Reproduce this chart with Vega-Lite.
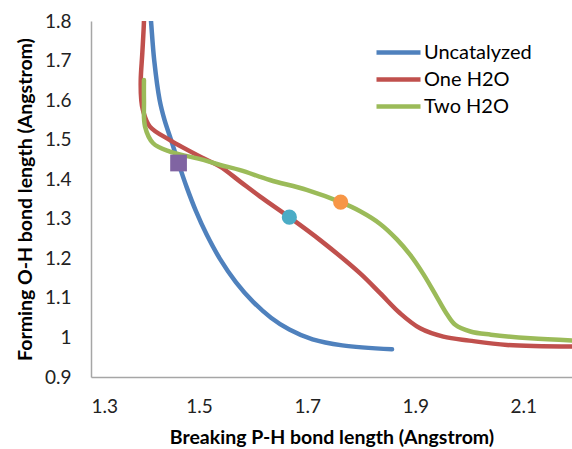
{
  "$schema": "https://vega.github.io/schema/vega-lite/v6.json",
  "width": 481,
  "height": 356,
  "autosize": {"type": "none"},
  "padding": {"left": 91, "top": 21, "right": 0, "bottom": 72},
  "background": "white",
  "config": {
    "view": {"stroke": null},
    "font": "Lato",
    "axis": {
      "grid": false,
      "ticks": false,
      "domainColor": "#A6A6A6",
      "domainWidth": 1.5,
      "labelFont": "Lato",
      "labelFontSize": 19,
      "labelColor": "#222222",
      "titleFont": "Lato",
      "titleFontSize": 19.5,
      "titleFontWeight": "bold",
      "titleColor": "#000000"
    }
  },
  "datasets": {
    "curves": [
      {"series": "Uncatalyzed", "x": 1.409, "y": 1.83},
      {"series": "Uncatalyzed", "x": 1.411, "y": 1.80},
      {"series": "Uncatalyzed", "x": 1.417, "y": 1.70},
      {"series": "Uncatalyzed", "x": 1.427, "y": 1.60},
      {"series": "Uncatalyzed", "x": 1.436, "y": 1.55},
      {"series": "Uncatalyzed", "x": 1.448, "y": 1.50},
      {"series": "Uncatalyzed", "x": 1.462, "y": 1.44},
      {"series": "Uncatalyzed", "x": 1.477, "y": 1.38},
      {"series": "Uncatalyzed", "x": 1.494, "y": 1.32},
      {"series": "Uncatalyzed", "x": 1.514, "y": 1.26},
      {"series": "Uncatalyzed", "x": 1.538, "y": 1.20},
      {"series": "Uncatalyzed", "x": 1.568, "y": 1.14},
      {"series": "Uncatalyzed", "x": 1.600, "y": 1.09},
      {"series": "Uncatalyzed", "x": 1.633, "y": 1.05},
      {"series": "Uncatalyzed", "x": 1.667, "y": 1.02},
      {"series": "Uncatalyzed", "x": 1.710, "y": 0.995},
      {"series": "Uncatalyzed", "x": 1.765, "y": 0.980},
      {"series": "Uncatalyzed", "x": 1.857, "y": 0.970},
      {"series": "One H2O", "x": 1.398, "y": 1.83},
      {"series": "One H2O", "x": 1.398, "y": 1.80},
      {"series": "One H2O", "x": 1.395, "y": 1.72},
      {"series": "One H2O", "x": 1.392, "y": 1.65},
      {"series": "One H2O", "x": 1.393, "y": 1.60},
      {"series": "One H2O", "x": 1.396, "y": 1.575},
      {"series": "One H2O", "x": 1.409, "y": 1.533},
      {"series": "One H2O", "x": 1.446, "y": 1.499},
      {"series": "One H2O", "x": 1.508, "y": 1.453},
      {"series": "One H2O", "x": 1.539, "y": 1.432},
      {"series": "One H2O", "x": 1.576, "y": 1.394},
      {"series": "One H2O", "x": 1.613, "y": 1.356},
      {"series": "One H2O", "x": 1.667, "y": 1.304},
      {"series": "One H2O", "x": 1.724, "y": 1.246},
      {"series": "One H2O", "x": 1.798, "y": 1.162},
      {"series": "One H2O", "x": 1.835, "y": 1.112},
      {"series": "One H2O", "x": 1.872, "y": 1.061},
      {"series": "One H2O", "x": 1.909, "y": 1.023},
      {"series": "One H2O", "x": 1.952, "y": 1.002},
      {"series": "One H2O", "x": 2.000, "y": 0.992},
      {"series": "One H2O", "x": 2.070, "y": 0.981},
      {"series": "One H2O", "x": 2.200, "y": 0.977},
      {"series": "Two H2O", "x": 1.398, "y": 1.651},
      {"series": "Two H2O", "x": 1.398, "y": 1.600},
      {"series": "Two H2O", "x": 1.400, "y": 1.533},
      {"series": "Two H2O", "x": 1.415, "y": 1.491},
      {"series": "Two H2O", "x": 1.446, "y": 1.470},
      {"series": "Two H2O", "x": 1.508, "y": 1.449},
      {"series": "Two H2O", "x": 1.539, "y": 1.436},
      {"series": "Two H2O", "x": 1.576, "y": 1.423},
      {"series": "Two H2O", "x": 1.631, "y": 1.398},
      {"series": "Two H2O", "x": 1.699, "y": 1.373},
      {"series": "Two H2O", "x": 1.762, "y": 1.342},
      {"series": "Two H2O", "x": 1.798, "y": 1.319},
      {"series": "Two H2O", "x": 1.835, "y": 1.287},
      {"series": "Two H2O", "x": 1.866, "y": 1.248},
      {"series": "Two H2O", "x": 1.891, "y": 1.208},
      {"series": "Two H2O", "x": 1.915, "y": 1.160},
      {"series": "Two H2O", "x": 1.940, "y": 1.102},
      {"series": "Two H2O", "x": 1.959, "y": 1.058},
      {"series": "Two H2O", "x": 1.974, "y": 1.032},
      {"series": "Two H2O", "x": 2.002, "y": 1.015},
      {"series": "Two H2O", "x": 2.040, "y": 1.007},
      {"series": "Two H2O", "x": 2.113, "y": 0.998},
      {"series": "Two H2O", "x": 2.200, "y": 0.992}
    ],
    "markers": [
      {"marker": "Uncatalyzed TS", "x": 1.462, "y": 1.441},
      {"marker": "One H2O TS", "x": 1.667, "y": 1.304},
      {"marker": "Two H2O TS", "x": 1.762, "y": 1.342}
    ]
  },
  "encoding": {
    "x": {
      "field": "x",
      "type": "quantitative",
      "scale": {"domain": [1.3, 2.19], "nice": false, "zero": false},
      "axis": {
        "values": [1.3, 1.5, 1.7, 1.9, 2.1],
        "format": ".1f",
        "labelPadding": 20,
        "title": "Breaking P-H bond length (Angstrom)",
        "titleY": 51,
        "titleBaseline": "top"
      }
    },
    "y": {
      "field": "y",
      "type": "quantitative",
      "scale": {"domain": [0.9, 1.8], "nice": false, "zero": false},
      "axis": {
        "values": [0.9, 1.0, 1.1, 1.2, 1.3, 1.4, 1.5, 1.6, 1.7, 1.8],
        "format": "~g",
        "labelPadding": 20,
        "title": "Forming O-H bond length (Angstrom)",
        "titleX": -66,
        "titleY": 178,
        "titleAngle": -90,
        "titleBaseline": "middle",
        "titleAlign": "center"
      }
    }
  },
  "layer": [
    {
      "data": {"name": "curves"},
      "mark": {"type": "line", "strokeWidth": 4.5, "interpolate": "catmull-rom", "clip": true, "strokeCap": "round", "strokeJoin": "round"},
      "encoding": {
        "color": {
          "field": "series",
          "type": "nominal",
          "scale": {"domain": ["Uncatalyzed", "One H2O", "Two H2O"], "range": ["#4F81BD", "#C0504D", "#9BBB59"]},
          "legend": {
            "orient": "none",
            "legendX": 283,
            "legendY": 18,
            "title": null,
            "padding": 0,
            "symbolType": "stroke",
            "symbolSize": 1936,
            "symbolStrokeWidth": 4.5,
            "labelFontSize": 20,
            "labelColor": "#000000",
            "labelOffset": 1,
            "clipHeight": 27,
            "rowPadding": 0
          }
        },
        "order": {"value": null}
      }
    },
    {
      "data": {"name": "markers"},
      "transform": [{"filter": "datum.marker === 'Uncatalyzed TS'"}],
      "mark": {"type": "point", "shape": "square", "filled": true, "size": 280, "color": "#8064A2", "opacity": 1}
    },
    {
      "data": {"name": "markers"},
      "transform": [{"filter": "datum.marker === 'One H2O TS'"}],
      "mark": {"type": "point", "shape": "circle", "filled": true, "size": 230, "color": "#4BACC6", "opacity": 1}
    },
    {
      "data": {"name": "markers"},
      "transform": [{"filter": "datum.marker === 'Two H2O TS'"}],
      "mark": {"type": "point", "shape": "circle", "filled": true, "size": 230, "color": "#F79646", "opacity": 1}
    }
  ]
}
